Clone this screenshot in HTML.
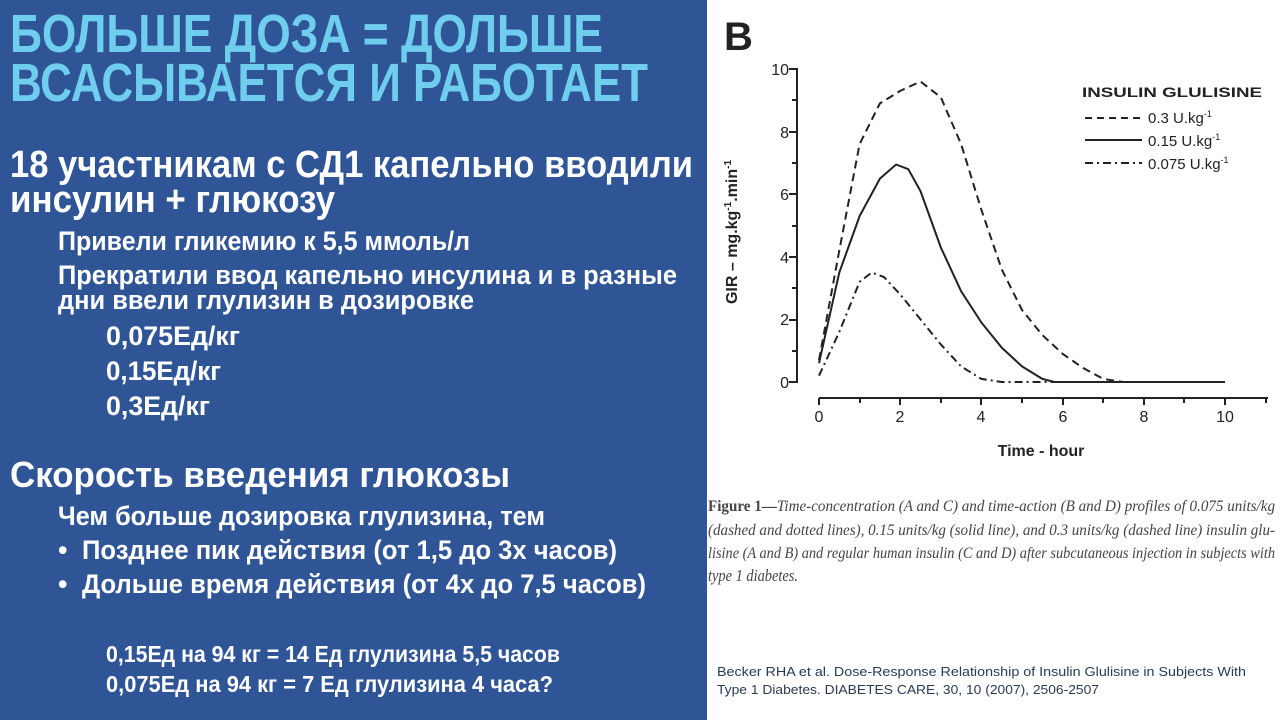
<!DOCTYPE html>
<html><head><meta charset="utf-8"><style>
html,body{margin:0;padding:0;width:1280px;height:720px;overflow:hidden;background:#fff}
svg{display:block}
.c{font-family:"Liberation Sans Narrow","Liberation Sans","Noto Sans CJK SC",sans-serif}
</style></head><body>
<svg width="1280" height="720" xmlns="http://www.w3.org/2000/svg">
<rect x="0" y="0" width="707" height="720" fill="#2f5597"/>
<g class="c" fill="#6fcdee" font-size="54" font-weight="bold">
<text x="10" y="52" textLength="593" lengthAdjust="spacingAndGlyphs">БОЛЬШЕ ДОЗА = ДОЛЬШЕ</text>
<text x="10" y="101" textLength="638" lengthAdjust="spacingAndGlyphs">ВСАСЫВАЕТСЯ И РАБОТАЕТ</text>
</g>
<g class="c" fill="#fff" font-weight="bold">
<text x="10" y="177" font-size="38" textLength="683" lengthAdjust="spacingAndGlyphs">18 участникам с СД1 капельно вводили</text>
<text x="10" y="212" font-size="38" textLength="325" lengthAdjust="spacingAndGlyphs">инсулин + глюкозу</text>
<g font-size="27">
<text x="58" y="250" textLength="412" lengthAdjust="spacingAndGlyphs">Привели гликемию к 5,5 ммоль/л</text>
<text x="58" y="284" textLength="619" lengthAdjust="spacingAndGlyphs">Прекратили ввод капельно инсулина и в разные</text>
<text x="58" y="309" textLength="416" lengthAdjust="spacingAndGlyphs">дни ввели глулизин в дозировке</text>
<text x="106" y="345" textLength="134" lengthAdjust="spacingAndGlyphs">0,075Ед/кг</text>
<text x="106" y="380" textLength="115" lengthAdjust="spacingAndGlyphs">0,15Ед/кг</text>
<text x="106" y="415" textLength="104" lengthAdjust="spacingAndGlyphs">0,3Ед/кг</text>
</g>
<text x="10" y="487" font-size="36" textLength="500" lengthAdjust="spacingAndGlyphs">Скорость введения глюкозы</text>
<g font-size="27">
<text x="58" y="525" textLength="487" lengthAdjust="spacingAndGlyphs">Чем больше дозировка глулизина, тем</text>
<text x="58" y="559">•</text>
<text x="82" y="559" textLength="535" lengthAdjust="spacingAndGlyphs">Позднее пик действия (от 1,5 до 3х часов)</text>
<text x="58" y="593">•</text>
<text x="82" y="593" textLength="564" lengthAdjust="spacingAndGlyphs">Дольше время действия (от 4х до 7,5 часов)</text>
</g>
<g font-size="23">
<text x="106" y="662" textLength="454" lengthAdjust="spacingAndGlyphs">0,15Ед на 94 кг = 14 Ед глулизина 5,5 часов</text>
<text x="106" y="692" textLength="447" lengthAdjust="spacingAndGlyphs">0,075Ед на 94 кг = 7 Ед глулизина 4 часа?</text>
</g>
</g>
<!-- chart -->
<g font-family="Liberation Sans, sans-serif" fill="#222">
<text x="724" y="50" font-size="40" font-weight="bold">B</text>
<g font-size="16" text-anchor="end">
<text x="789" y="75">10</text><text x="789" y="138">8</text><text x="789" y="200">6</text>
<text x="789" y="263">4</text><text x="789" y="325">2</text><text x="789" y="388">0</text>
</g>
<g font-size="16" text-anchor="middle">
<text x="819" y="422">0</text><text x="900" y="422">2</text><text x="981" y="422">4</text>
<text x="1063" y="422">6</text><text x="1144" y="422">8</text><text x="1225" y="422">10</text>
</g>
<text x="1041" y="456" font-size="16" font-weight="bold" text-anchor="middle">Time - hour</text>
<text transform="translate(737,232) rotate(-90)" font-size="16" font-weight="bold" text-anchor="middle">GIR – mg.kg<tspan font-size="10" dy="-6">-1</tspan><tspan dy="6">.min</tspan><tspan font-size="10" dy="-6">-1</tspan></text>
<text x="1082" y="97" font-size="14" font-weight="bold" textLength="180" lengthAdjust="spacingAndGlyphs">INSULIN GLULISINE</text>
<g font-size="15">
<text x="1148" y="123">0.3 U.kg<tspan font-size="9" dy="-6">-1</tspan></text>
<text x="1148" y="146">0.15 U.kg<tspan font-size="9" dy="-6">-1</tspan></text>
<text x="1148" y="169">0.075 U.kg<tspan font-size="9" dy="-6">-1</tspan></text>
</g>
</g>
<g stroke="#222" fill="none" stroke-width="2">
<line x1="797" y1="68" x2="797" y2="383"/>
<path d="M789 69H797M789 132H797M789 194H797M789 257H797M789 320H797M789 382H797M792 100H797M792 163H797M792 226H797M792 288H797M792 351H797"/>
<line x1="819" y1="398" x2="1268" y2="398"/>
<path d="M819 398V405M860 398V403M900 398V405M941 398V403M981 398V405M1022 398V403M1063 398V405M1103 398V403M1144 398V405M1184 398V403M1225 398V405M1266 398V403"/>
<line x1="1085" y1="118" x2="1142" y2="118" stroke-dasharray="7,5"/>
<line x1="1085" y1="140" x2="1142" y2="140"/>
<line x1="1085" y1="163" x2="1142" y2="163" stroke-dasharray="8,4,2,4"/>
<polyline stroke-linejoin="round" stroke-dasharray="8,5" points="819,360.1 839.3,250.5 859.6,144.1 879.9,103.4 900.2,90.9 920.5,81.5 940.8,97.2 961.1,144.1 981.4,209.9 1001.7,269.3 1022,310 1042.3,335 1062.6,353.8 1082.9,367.9 1103.2,378.9 1123.5,382 1225,382"/>
<polyline stroke-linejoin="round" points="819,363.2 839.3,272.5 859.6,216.1 879.9,178.6 896.1,164.5 908.3,169.2 920.5,191.1 940.8,247.4 961.1,291.2 981.4,322.5 1001.7,347.6 1022,366.4 1042.3,378.9 1054.5,382 1225,382"/>
<polyline stroke-linejoin="round" stroke-dasharray="8,4,2,4" points="819,375.7 839.3,331.9 859.6,281.8 871.8,272.5 884,277.1 900.2,294.4 920.5,319.4 940.8,344.4 961.1,366.4 981.4,378.9 1001.7,382 1054.5,382"/>
</g>
<g font-family="Liberation Serif, serif" font-size="16" fill="#444" font-style="italic">
<text x="708" y="511" textLength="567" lengthAdjust="spacingAndGlyphs"><tspan font-weight="bold" font-style="normal">Figure 1—</tspan>Time-concentration (A and C) and time-action (B and D) profiles of 0.075 units/kg</text>
<text x="708" y="535" textLength="567" lengthAdjust="spacingAndGlyphs">(dashed and dotted lines), 0.15 units/kg (solid line), and 0.3 units/kg (dashed line) insulin glu-</text>
<text x="708" y="558" textLength="567" lengthAdjust="spacingAndGlyphs">lisine (A and B) and regular human insulin (C and D) after subcutaneous injection in subjects with</text>
<text x="708" y="581" font-size="17" textLength="90" lengthAdjust="spacingAndGlyphs">type 1 diabetes.</text>
</g>
<g font-family="Liberation Sans, sans-serif" font-size="13" fill="#2a3a55">
<text x="717" y="676" textLength="529" lengthAdjust="spacingAndGlyphs">Becker RHA et al. Dose-Response Relationship of Insulin Glulisine in Subjects With</text>
<text x="717" y="694" textLength="382" lengthAdjust="spacingAndGlyphs">Type 1 Diabetes. DIABETES CARE, 30, 10 (2007), 2506-2507</text>
</g>
</svg>
</body></html>
